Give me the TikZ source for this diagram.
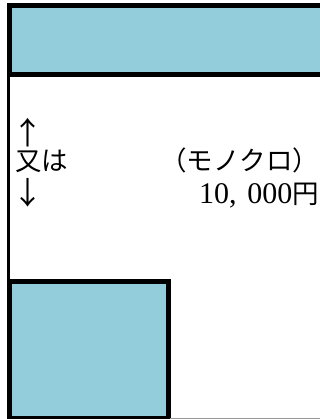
\documentclass[tikz,border=0pt]{standalone}
\usepackage{fontspec}
\newfontfamily\jp{Noto Sans CJK JP}
\newfontfamily\num{Liberation Serif}
\definecolor{boxblue}{RGB}{147,205,219}
\definecolor{edgegray}{RGB}{150,150,150}
\tikzset{
  bluebox/.style={draw=black, fill=boxblue, line width=5pt, line join=miter},
  lbl/.style={inner sep=0pt, outer sep=0pt, font=\jp\fontsize{26.5}{26.5}\selectfont},
  arrowlbl/.style={inner sep=0pt, outer sep=0pt, font=\jp\fontsize{31}{31}\selectfont}
}
\begin{document}
\begin{tikzpicture}[x=1pt,y=-1pt]
\clip (0,0) rectangle (320,419);
\fill[white] (0,0) rectangle (320,419);
% top box
\draw[bluebox] (9,5.5) rectangle (335,74.5);
% left vertical line
\draw[line width=3pt] (8.5,74) -- (8.5,282);
% bottom box
\draw[bluebox] (9,281.5) rectangle (168.5,418);
\draw[edgegray, line width=1pt] (170,418) -- (320,418);
% texts
\node[arrowlbl, anchor=center] (up) at (28,133) {↑};
\node[lbl, anchor=west] (mata) at (15,161) {又は};
\node[arrowlbl, anchor=center] (down) at (28,193) {↓};
\node[lbl, anchor=east] (mono) at (319,160) {（モノクロ）};
\node[lbl, anchor=east] (price) at (319,196) {{\num\fontsize{30}{30}\selectfont 10,\hspace{11pt}000}円};
\end{tikzpicture}
\end{document}
